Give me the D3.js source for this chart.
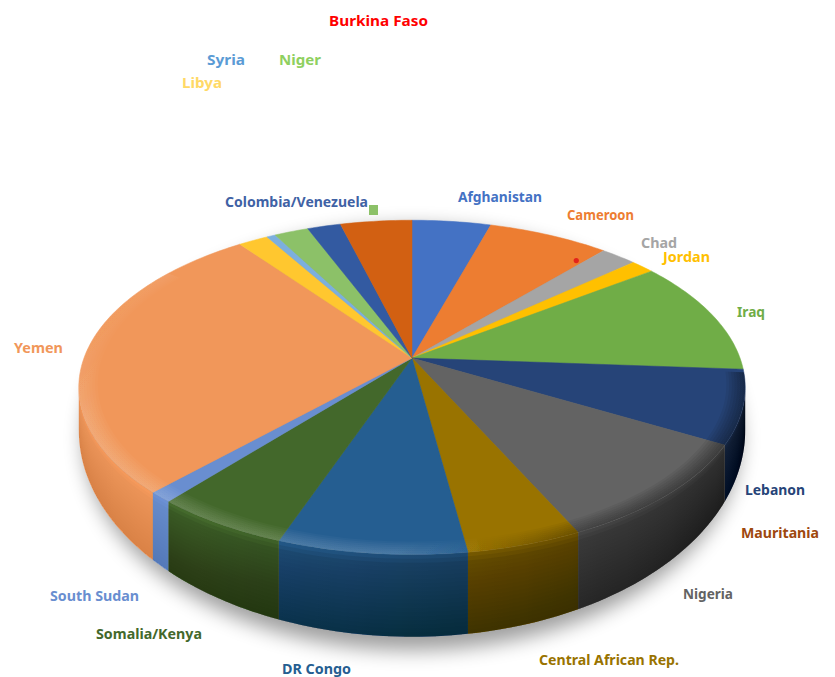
<!DOCTYPE html>
<html>
<head>
<meta charset="utf-8">
<script src="https://cdn.jsdelivr.net/npm/d3@7/dist/d3.min.js"></script>
<style>
html, body { margin: 0; padding: 0; background: #fff; }
svg { display: block; }
text { font-family: "Noto Sans", sans-serif; font-weight: 700; font-size: 15px; dominant-baseline: middle; }
</style>
</head>
<body>
<svg id="chart" width="835" height="677"></svg>
<script>
// Share of each country, clockwise from twelve o'clock
const countries = ["Afghanistan", "Cameroon", "Chad", "Jordan", "Iraq", "Lebanon", "Nigeria",
  "Central African Rep.", "DR Congo", "Somalia/Kenya", "South Sudan", "Yemen", "Libya",
  "Syria", "Niger", "Colombia/Venezuela", "Mauritania"];
const shares = [4.53, 6.97, 2.06, 1.36, 11.17, 7.08, 9.83, 4.75, 7.75, 5.61, 1.0, 27.67, 1.72, 0.5, 1.97, 1.92, 4.11];
const sliceColors = ["#4472c4", "#ed7d31", "#a5a5a5", "#ffc000", "#70ad47", "#264478", "#636363",
  "#997300", "#255e91", "#43682b", "#698ed0", "#f1975a", "#ffc72f", "#7cafdd", "#8cc168",
  "#335aa1", "#d26012"];
const labelColors = ["#4472c4", "#ed7d31", "#a5a5a5", "#ffc000", "#70ad47", "#264478", "#636363",
  "#997300", "#255e91", "#43682b", "#698ed0", "#f1975a", "#ffd966", "#5b9bd5", "#8fd05f",
  "#3f62a5", "#9e480e"];
// Left edge, vertical centre and width of each label
const labelX = [458, 567, 641, 663, 737, 745, 683, 539, 282, 96, 50, 14, 182, 207, 279, 225, 741];
const labelY = [198, 216, 244, 258, 313, 491, 595, 661, 670, 635, 597, 349, 84, 61, 61, 203, 534];
const labelWidth = [84, 67, 36, 47, 28, 60, 50, 140, 69, 106, 89, 49, 40, 38, 42, 143, 78];

const extraLabel = "Burkina Faso";

// Tilted disc: a circle seen in perspective. The base shares the top's x positions,
// so the walls stay vertical, and sits on a wider ellipse in y.
const centerX = 412, centerY = 358, spreadX = 328, spreadY = 162, tilt = 0.176;
const baseDrop = 36, baseSpreadY = 200;

function project(angle, radius, offset) {
  const u = radius * Math.sin(angle), v = -radius * Math.cos(angle);
  const k = 1 / (1 - tilt * v);
  return [
    centerX + spreadX * u * k,
    centerY + baseDrop * offset + (spreadY + (baseSpreadY - spreadY) * offset) * v * k
  ];
}

const svg = d3.select("#chart");
const defs = svg.append("defs");
defs.append("filter").attr("id", "soft").attr("x", "-20%").attr("y", "-20%").attr("width", "140%").attr("height", "140%")
  .append("feGaussianBlur").attr("stdDeviation", 10);

const pie = d3.pie().sort(null).value(d => d);
const slices = pie(shares);
const tau = 2 * Math.PI;
const rad = d => d * Math.PI / 180;
const lineGen = d3.line();

const rimPath = (a0, a1, radius, offset) =>
  d3.range(0, 1.0001, 1 / Math.max(2, Math.ceil((a1 - a0) / 0.02)))
    .map(t => project(a0 + (a1 - a0) * t, radius, offset));

// Ground shadow under the disc
svg.append("path")
  .attr("d", lineGen(rimPath(0, tau, 0.985, 1.22)) + "Z")
  .attr("fill", "#000").attr("opacity", 0.38)
  .attr("filter", "url(#soft)");

// Light falls from the upper left, so the wall darkens towards the right
const wallLight = d3.scaleLinear()
  .domain([100, 120, 150, 180, 200, 215, 260])
  .range([0.33, 0.55, 0.66, 0.8, 0.92, 1.02, 1.0])
  .clamp(true);

const wallStart = rad(100), wallEnd = rad(260);
const wallLayer = svg.append("g");

// Wall of each slice: colour runs left to right through a gradient of its own
slices.forEach((s, i) => {
  const a0 = Math.max(s.startAngle, wallStart);
  const a1 = Math.min(s.endAngle, wallEnd);
  if (a1 <= a0) return;
  const base = d3.rgb(sliceColors[i]);
  const x0 = project(a0, 1, 0)[0], x1 = project(a1, 1, 0)[0];
  const grad = defs.append("linearGradient").attr("id", "wall" + i)
    .attr("gradientUnits", "userSpaceOnUse")
    .attr("x1", x0).attr("x2", x1).attr("y1", 0).attr("y2", 0);
  d3.range(0, 1.0001, 0.1).forEach(t => {
    const a = a0 + (a1 - a0) * t;
    const light = wallLight(a * 180 / Math.PI);
    grad.append("stop")
      .attr("offset", (project(a, 1, 0)[0] - x0) / (x1 - x0))
      .attr("stop-color", d3.rgb(base.r * light, base.g * light, base.b * light).formatRgb());
  });
  wallLayer.append("path")
    .attr("d", lineGen(rimPath(a0, a1, 1, 0).concat(rimPath(a0, a1, 1, 1).reverse())) + "Z")
    .attr("fill", `url(#wall${i})`);
});

// Stacked translucent strips deepen the wall from its top edge down to the base;
// the lit stretch left of South Sudan gets only a quarter of the depth
const yemenEdge = slices[10].startAngle;
d3.range(1 / 20, 1, 1 / 20).forEach(t => {
  const alpha = t < 0.13 ? 0.08 : 0.014;
  [[wallStart, yemenEdge, alpha], [yemenEdge, wallEnd, alpha * 0.25]].forEach(([a0, a1, a]) => {
    wallLayer.append("path")
      .attr("d", lineGen(rimPath(a0, a1, 1, t).concat(rimPath(a0, a1, 1, 1).reverse())) + "Z")
      .attr("fill", "#000")
      .attr("fill-opacity", a);
  });
});

// Top face of every slice
const faceLayer = svg.append("g");
slices.forEach((s, i) => {
  const outline = [project(0, 0, 0)].concat(rimPath(s.startAngle, s.endAngle, 1, 0));
  faceLayer.append("path").attr("d", lineGen(outline) + "Z").attr("fill", sliceColors[i])
    .attr("stroke", sliceColors[i]).attr("stroke-width", 0.5);
});

// Rounded edge of the disc: lit along the lower left, shaded on the lower right
const litEdge = defs.append("linearGradient").attr("id", "litEdge")
  .attr("gradientUnits", "userSpaceOnUse")
  .attr("x1", 480).attr("y1", 560).attr("x2", 150).attr("y2", 250);
[[0, 0], [0.15, 1], [0.85, 1], [1, 0]].forEach(([o, a]) =>
  litEdge.append("stop").attr("offset", o).attr("stop-color", "#fff").attr("stop-opacity", a));
const shadedEdge = defs.append("linearGradient").attr("id", "shadedEdge")
  .attr("gradientUnits", "userSpaceOnUse")
  .attr("x1", 745).attr("y1", 0).attr("x2", 470).attr("y2", 0);
[[0, 1], [0.55, 0.85], [1, 0]].forEach(([o, a]) =>
  shadedEdge.append("stop").attr("offset", o).attr("stop-color", "#000").attr("stop-opacity", a));

d3.range(0.945, 0.9999, 0.008).forEach(r => {
  const lit = [rad(170), rad(305)], shaded = [rad(95), rad(175)];
  faceLayer.append("path")
    .attr("d", lineGen(rimPath(lit[0], lit[1], r, 0).concat(rimPath(lit[0], lit[1], 1, 0).reverse())) + "Z")
    .attr("fill", "url(#litEdge)").attr("fill-opacity", 0.027);
  faceLayer.append("path")
    .attr("d", lineGen(rimPath(shaded[0], shaded[1], r, 0).concat(rimPath(shaded[0], shaded[1], 1, 0).reverse())) + "Z")
    .attr("fill", "url(#shadedEdge)").attr("fill-opacity", 0.065);
});

// Country labels
svg.append("g").selectAll("text").data(countries).join("text")
  .attr("x", (d, i) => labelX[i])
  .attr("y", (d, i) => labelY[i])
  .attr("fill", (d, i) => labelColors[i])
  .attr("textLength", (d, i) => labelWidth[i])
  .attr("lengthAdjust", "spacingAndGlyphs")
  .text(d => d);

// Burkina Faso is called out in red, with a marker on the disc
svg.append("text").attr("x", 329).attr("y", 22).attr("fill", "#ff0000")
  .attr("textLength", 99).attr("lengthAdjust", "spacingAndGlyphs").text(extraLabel);
const marker = project(rad(39.8), 0.875, 0);
svg.append("circle").attr("cx", marker[0]).attr("cy", marker[1]).attr("r", 2.6).attr("fill", "#e3231b");

// Small tag beside Colombia/Venezuela
svg.append("rect").attr("x", 369).attr("y", 205).attr("width", 9).attr("height", 10).attr("fill", "#8cc168");
</script>
</body>
</html>
